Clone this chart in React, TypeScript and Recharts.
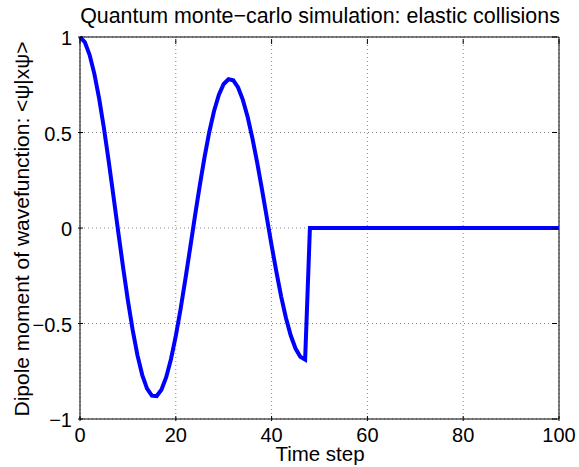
import React from 'react';
import { LineChart, Line, XAxis, YAxis, CartesianGrid, ReferenceLine } from 'recharts';

const timeSteps = Array.from({ length: 101 }, (_, i) => i);

// dipole moment, steps 0..47; after the collision at step 48 it is 0
const dipoleBefore = [
  1.0, 0.973, 0.907, 0.807, 0.677, 0.522, 0.348, 0.164, -0.023, -0.207,
  -0.38, -0.535, -0.667, -0.77, -0.841, -0.878, -0.88, -0.847, -0.781, -0.686,
  -0.565, -0.424, -0.268, -0.104, 0.062, 0.222, 0.371, 0.504, 0.614, 0.698,
  0.754, 0.779, 0.773, 0.736, 0.671, 0.581, 0.469, 0.341, 0.201, 0.055,
  -0.091, -0.23, -0.359, -0.471, -0.563, -0.631, -0.674, -0.689,
];
const dipoleAfter = new Array(53).fill(0);
const dipole = [...dipoleBefore, ...dipoleAfter];

const xTicks = [0, 20, 40, 60, 80, 100];
const yTicks = [-1, -0.5, 0, 0.5, 1];

const data = timeSteps.map((t, i) => ({ t, d: dipole[i] }));

const W = 579;
const H = 467;
const M = { top: 37, right: 20, bottom: 26, left: 50 };
const Y_AXIS_W = 30;
const X_AXIS_H = 22;
const PLOT_W = W - M.left - Y_AXIS_W - M.right;
const PLOT_H = H - M.top - M.bottom - X_AXIS_H;
const FONT = '"Liberation Sans", Arial, Helvetica, sans-serif';
const TICK_LEN = 5;

const fmt = (v: number) => (v < 0 ? `\u2212${Math.abs(v)}` : `${v}`);

function XTick({ x, y, payload }: any) {
  const top = y - PLOT_H;
  return (
    <g>
      <line x1={x} x2={x} y1={y} y2={y - TICK_LEN} stroke="#000" />
      <line x1={x} x2={x} y1={top} y2={top + TICK_LEN} stroke="#000" />
      <text x={x} y={y + 21} textAnchor="middle" fontSize={20} fontFamily={FONT} fill="#000">
        {fmt(payload.value)}
      </text>
    </g>
  );
}

function YTick({ x, y, payload }: any) {
  const right = x + PLOT_W;
  return (
    <g>
      <line x1={x} x2={x + TICK_LEN} y1={y} y2={y} stroke="#000" />
      <line x1={right} x2={right - TICK_LEN} y1={y} y2={y} stroke="#000" />
      <text x={x - 6} y={y + 8} textAnchor="end" fontSize={20} fontFamily={FONT} fill="#000">
        {fmt(payload.value)}
      </text>
    </g>
  );
}

export default function App() {
  return (
    <div style={{ position: 'absolute', left: 0, top: 0, width: W, height: H, background: '#fff' }}>
      <LineChart width={W} height={H} data={data} margin={M}>
        <CartesianGrid stroke="#888" strokeDasharray="1 3" />
        <XAxis
          dataKey="t"
          type="number"
          domain={[0, 100]}
          ticks={xTicks}
          height={X_AXIS_H}
          tickLine={false}
          tickSize={0}
          axisLine={{ stroke: '#000' }}
          tick={<XTick />}
          interval={0}
        />
        <YAxis
          type="number"
          domain={[-1, 1]}
          ticks={yTicks}
          width={Y_AXIS_W}
          tickLine={false}
          tickSize={0}
          axisLine={{ stroke: '#000' }}
          tick={<YTick />}
          interval={0}
        />
        <ReferenceLine x={100} stroke="#000" />
        <ReferenceLine y={1} stroke="#000" />
        <Line
          type="linear"
          dataKey="d"
          stroke="#0000ff"
          strokeWidth={4}
          dot={false}
          isAnimationActive={false}
        />
        <text x={320} y={23} textAnchor="middle" fontSize={21.4} fontFamily={FONT} fill="#000">
          {'Quantum monte\u2212carlo simulation: elastic collisions'}
        </text>
        <text x={320} y={461} textAnchor="middle" fontSize={20.5} fontFamily={FONT} fill="#000">
          Time step
        </text>
        <text
          x={0}
          y={0}
          transform="translate(29,229) rotate(-90)"
          textAnchor="middle"
          fontSize={21}
          fontFamily={FONT}
          fill="#000"
        >
          Dipole moment of wavefunction: &lt;ψ|xψ&gt;
        </text>
      </LineChart>
    </div>
  );
}
